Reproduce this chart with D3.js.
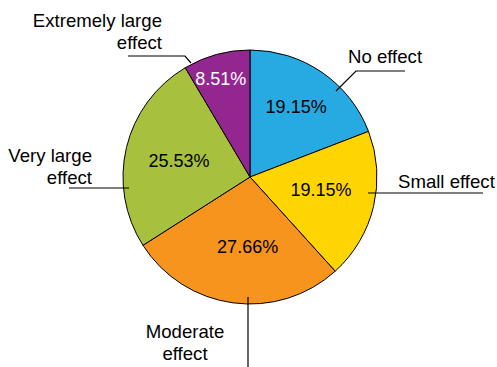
<!DOCTYPE html>
<html>
<head>
<meta charset="utf-8">
<script src="https://cdn.jsdelivr.net/npm/d3@7"></script>
<style>
  html, body { margin: 0; padding: 0; background: #fff; }
  svg { display: block; font-family: "Liberation Sans", Arial, Helvetica, sans-serif; }
</style>
</head>
<body>
<svg id="chart" width="497" height="367"></svg>
<script>
// ---- data ----
const categories = ["No effect", "Small effect", "Moderate effect", "Very large effect", "Extremely large effect"];
const values = [19.15, 19.15, 27.66, 25.53, 8.51];
const colors = ["#27a9e1", "#fed500", "#f7941e", "#a7c13f", "#93278f"];
const valueTextColors = ["#000", "#000", "#000", "#000", "#fff"];

// ---- layout ----
const W = 497, H = 367;
const cx = 250, cy = 177, R = 127;
const svg = d3.select("#chart");
const g = svg.append("g").attr("transform", `translate(${cx},${cy})`);

const pie = d3.pie().sort(null).value(d => d);
const arcs = pie(values);
const arc = d3.arc().innerRadius(0).outerRadius(R);

g.selectAll("path.slice")
  .data(arcs)
  .enter().append("path")
  .attr("class", "slice")
  .attr("d", arc)
  .attr("fill", (d, i) => colors[i])
  .attr("stroke", "#000")
  .attr("stroke-width", 1);

// percentage labels: radius used for each slice's label
const labelR = [84, 72, 70, 73, 103];
const angleShift = [-0.02, -0.06, -0.1, 0, -0.02];
g.selectAll("text.pct")
  .data(arcs)
  .enter().append("text")
  .attr("class", "pct")
  .attr("x", (d, i) => { const a = (d.startAngle + d.endAngle) / 2 + angleShift[i]; return Math.sin(a) * labelR[i]; })
  .attr("y", (d, i) => { const a = (d.startAngle + d.endAngle) / 2 + angleShift[i]; return -Math.cos(a) * labelR[i]; })
  .attr("dy", "0.36em")
  .attr("text-anchor", "middle")
  .attr("font-size", 18)
  .attr("fill", (d, i) => valueTextColors[i])
  .text(d => d.data.toFixed(2) + "%");

// leader lines & category labels (absolute coords)
const lines = [
  [[336, 91], [356, 71], [405, 71]],
  [[368, 193], [483, 193]],
  [[248, 297], [248, 367]],
  [[129, 188], [69, 188]],
  [[191, 63], [185, 56], [128, 56]]
];
const lineGen = d3.line();
svg.selectAll("path.leader")
  .data(lines)
  .enter().append("path")
  .attr("class", "leader")
  .attr("d", d => lineGen(d))
  .attr("fill", "none")
  .attr("stroke", "#000")
  .attr("stroke-width", 1.2);

const catLabels = [
  { lines: ["No effect"], x: 348, y: 63, anchor: "start" },
  { lines: ["Small effect"], x: 398, y: 188, anchor: "start" },
  { lines: ["Moderate", "effect"], x: 185, y: 338, anchor: "middle" },
  { lines: ["Very large", "effect"], x: 92, y: 162, anchor: "end" },
  { lines: ["Extremely large", "effect"], x: 162, y: 27, anchor: "end" }
];
catLabels.forEach((c, i) => {
  const t = svg.append("text")
    .attr("x", c.x).attr("y", c.y)
    .attr("text-anchor", c.anchor)
    .attr("font-size", 18.6)
    .attr("fill", "#000");
  c.lines.forEach((ln, j) => {
    t.append("tspan").attr("x", c.x).attr("dy", j === 0 ? 0 : 22).text(ln);
  });
});
</script>
</body>
</html>
